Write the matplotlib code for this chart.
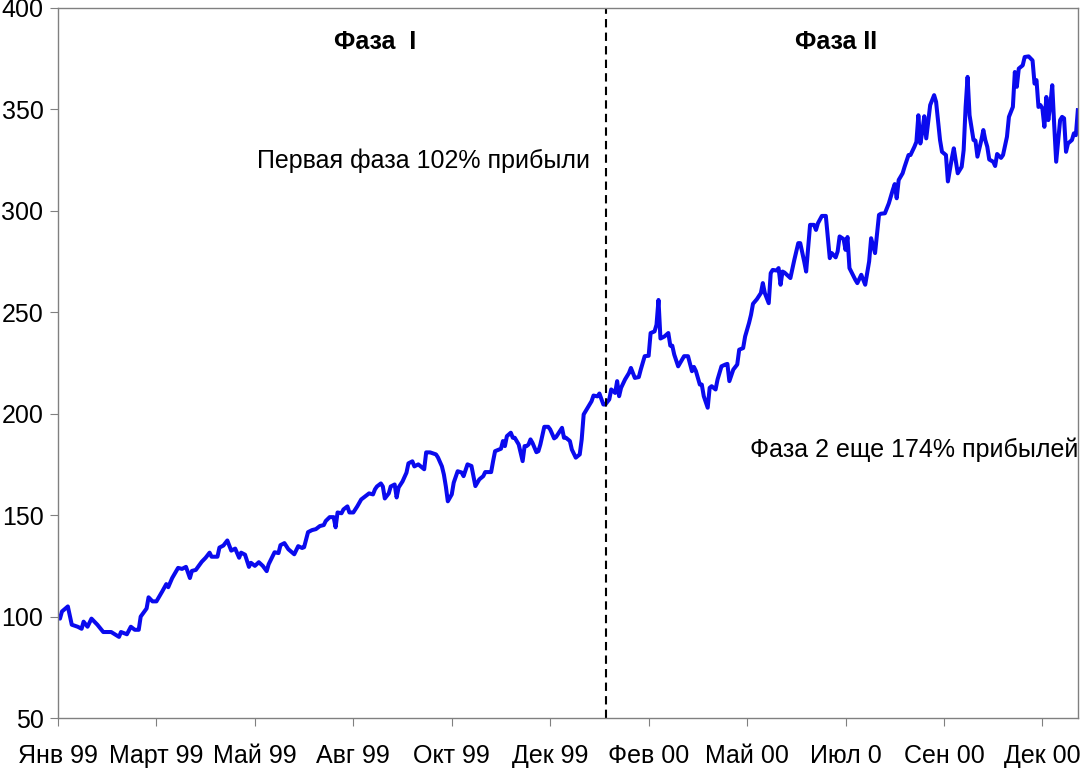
import matplotlib.pyplot as plt

plt.rcParams['font.family'] = ['Liberation Sans', 'DejaVu Sans']

# trading day number and index value
days = [0, 1, 2, 5, 7, 10, 12, 13, 15, 17, 20, 23, 27, 31, 32, 35, 37, 39, 41, 42,
        45, 46, 48, 50, 53, 55, 56, 58, 61, 63, 65, 67, 68, 70, 73, 75, 77, 78, 81, 82,
        84, 86, 88, 90, 92, 93, 95, 97, 98, 100, 102, 104, 106, 107, 109, 110, 112, 113, 115, 117,
        120, 122, 124, 125, 127, 129, 131, 133, 135, 136, 138, 140, 141, 142, 144, 145, 147, 148, 150, 152,
        154, 156, 158, 160, 161, 162, 164, 165, 166, 168, 169, 171, 172, 173, 175, 177, 178, 180, 181, 183,
        186, 187, 189, 192, 193, 195, 196, 197, 198, 200, 201, 203, 205, 206, 208, 210, 211, 212, 214, 216,
        217, 220, 221, 222, 225, 226, 227, 228, 230, 231, 232, 234, 236, 237, 238, 239, 240, 241, 243, 244,
        245, 247, 249, 250, 252, 253, 256, 257, 258, 260, 261, 263, 265, 266, 267, 269, 271, 272, 274, 275,
        277, 278, 280, 281, 283, 284, 285, 286, 288, 290, 291, 293, 295, 296, 298, 300, 301, 303, 304, 305,
        306, 308, 310, 311, 312, 313, 315, 316, 318, 320, 322, 323, 324, 326, 327, 328, 330, 331, 332, 334,
        335, 337, 339, 340, 341, 343, 345, 346, 348, 349, 351, 352, 353, 355, 357, 358, 359, 361, 362, 363,
        365, 366, 367, 368, 369, 372, 374, 376, 377, 379, 380, 382, 384, 385, 386, 388, 390, 392, 393, 395,
        396, 397, 399, 400, 401, 402, 405, 406, 408, 410, 412, 413, 415, 417, 418, 420, 422, 424, 425, 426,
        427, 429, 430, 432, 433, 435, 436, 437, 438, 439, 440, 441, 443, 445, 446, 448, 449, 451, 452, 454,
        455, 457, 459, 460, 461, 462, 463, 465, 466, 467, 469, 470, 471, 472, 473, 475, 476, 477, 479, 480,
        482, 483, 485, 486, 487, 488, 490, 491, 493, 495, 496, 497, 498, 499, 500, 501, 502, 503, 504, 505,
        506, 507, 509, 510, 511, 512, 513, 515, 516, 517, 518]
values = [100.3, 99, 102.5, 105, 96, 95, 94, 97.5, 95, 99, 96, 92.4, 92.4, 90, 92.4, 91.3, 95, 93.5, 93.5, 100,
          104, 109.5, 107.5, 107.5, 112.5, 116, 114.5, 119, 124, 123.5, 124.5, 119, 122.5, 123, 127, 129, 131.5, 129.5, 129.5, 134,
          135, 137.5, 132.5, 133.5, 129, 131.5, 130.5, 124.5, 126.5, 125, 126.8, 125, 122.4, 125.8, 129.8, 131.7, 131.3, 135.2, 136.2, 133.2,
          130.7, 134.7, 133.8, 134.2, 141.6, 142.6, 143.1, 144.6, 145.1, 147.1, 149, 149, 144, 151.3, 150.9, 152.8, 154.3, 151.3, 151.3, 154.3,
          157.7, 159.2, 160.7, 160.2, 162.7, 164.1, 165.6, 164.1, 158.2, 160.7, 164.1, 165.1, 158.7, 163.6, 166.6, 170.9, 175.5, 176.5, 174, 175,
          172.6, 180.9, 180.9, 179.9, 178.4, 174, 170, 164.1, 156.8, 160.2, 166, 171.6, 171, 169.2, 175, 174.2, 169.2, 164.3, 167.6, 169.2,
          171.2, 171.2, 176.6, 181.5, 182.7, 186.5, 184, 188.9, 190.6, 188.1, 188.1, 184.8, 176.6, 184, 184, 184.8, 187.3, 185.6, 181, 181.5,
          184.8, 193.5, 193.5, 192.2, 187.8, 188.5, 193, 188.1, 188.1, 186.5, 182.3, 178.3, 179.9, 187.3, 199.6, 202.9, 206.1, 208.9, 208.5, 209.9,
          204.5, 204.5, 207, 211.9, 210.2, 216, 208.6, 212.7, 216.8, 220, 222.5, 217.6, 218, 221.7, 228.3, 228.5, 239.7, 240.5, 243.8, 256,
          237, 238, 239.7, 233.5, 233.5, 229.1, 223.3, 225, 228.3, 228.3, 220.9, 223, 221, 214.3, 214.3, 208.6, 202.9, 212.7, 213.5, 211.9,
          216.8, 223.3, 224.2, 224.5, 216, 221.7, 224.2, 231.5, 232.3, 238, 244.7, 248.7, 254.1, 256.4, 259.4, 264.3, 259.4, 254.4, 269.2, 270.8,
          270.5, 271.7, 263.5, 270, 269.5, 266.8, 275.8, 284, 284, 275, 270, 293, 293, 290.5, 293.8, 297.4, 297.4, 276.6, 279.1, 277,
          279.9, 287.3, 286, 280.7, 287, 271.7, 265.9, 264.3, 268.4, 263.5, 275, 286.4, 279.1, 297.9, 298.5, 298.7, 303.6, 310.2, 313.1, 306.1,
          315.1, 318.4, 321.6, 327.4, 327.4, 331.5, 333.9, 347, 333.1, 338.9, 346.5, 335.6, 352, 356.9, 353.6, 334.8, 329, 327.4, 314.4, 325.8,
          330.7, 318.4, 321.6, 329.8, 351.1, 365.9, 347, 334.8, 334.5, 326.6, 334.8, 339.7, 334.8, 331.5, 325.2, 324.1, 322, 327.9, 326, 327.4,
          336.4, 346.2, 351.1, 368.3, 361, 370, 371.6, 375.7, 376, 374, 362.6, 364.3, 351.1, 352, 350.3, 341.3, 356, 344.6, 352, 361.8,
          342.1, 324.1, 344.6, 346.2, 345.5, 329, 333.1, 334.8, 338.1, 337.2, 349.5]

tick_days = [0, 50, 100, 150, 200, 250, 300, 350, 400, 450, 500]
tick_labels = ['Янв 99', 'Март 99', 'Май 99', 'Авг 99', 'Окт 99', 'Дек 99',
               'Фев 00', 'Май 00', 'Июл 0', 'Сен 00', 'Дек 00']
phase_split = 278.4

fig = plt.figure(figsize=(10.8, 7.68), dpi=100)
ax = fig.add_axes([0.0537, 0.065, 0.9443, 0.925])

ax.plot(days, values, color='#0A0AEE', linewidth=2.9, solid_joinstyle='round')
ax.axvline(phase_split, color='black', linewidth=1.5, linestyle=(0, (4, 2.5)))

ax.set_xlim(0, 518)
ax.set_ylim(50, 400)
ax.set_yticks(range(50, 401, 50))
ax.set_xticks(tick_days)
ax.set_xticklabels(tick_labels)

for s in ax.spines.values():
    s.set_color('#808080')
    s.set_linewidth(1)
ax.tick_params(axis='both', direction='out', length=5.5, color='#808080',
               labelsize=18, labelcolor='black')
ax.tick_params(axis='y', pad=5)
ax.tick_params(axis='x', pad=13)

ax.text(161, 383, 'Фаза  I', fontsize=18, fontweight='bold', ha='center', va='center')
ax.text(395, 383, 'Фаза II', fontsize=18, fontweight='bold', ha='center', va='center')
ax.text(185.5, 324.4, 'Первая фаза 102% прибыли', fontsize=18, ha='center', va='center')
ax.text(435, 182, 'Фаза 2 еще 174% прибылей', fontsize=18, ha='center', va='center')

fig.savefig('out.png', dpi=100)
